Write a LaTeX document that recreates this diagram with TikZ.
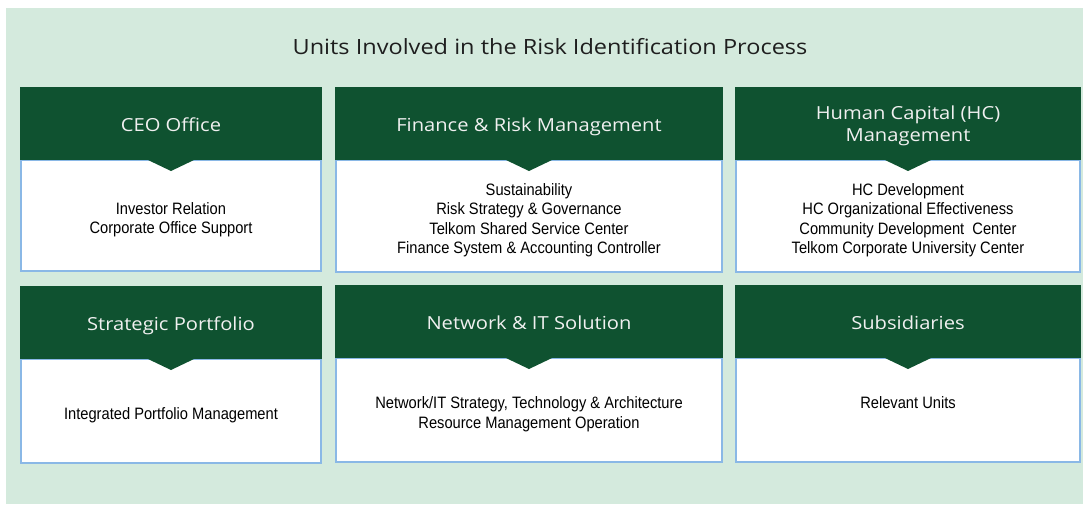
\documentclass[tikz,border=0pt]{standalone}
\usepackage{fontspec}
\setmainfont[FakeStretch=1.12]{Open Sans}
\newfontfamily\unitfont[FakeStretch=0.89]{Liberation Sans}
\usetikzlibrary{positioning}
\definecolor{bggreen}{HTML}{D4EADD}
\definecolor{hdrgreen}{HTML}{0F5230}
\definecolor{unitblue}{HTML}{8AB8E6}
\definecolor{titlegray}{HTML}{1E1E1E}
\tikzset{
  hdr/.style={fill=hdrgreen, text=white!94!black, minimum height=73pt, inner sep=0pt, align=center, font=\fontsize{18}{22}\selectfont, text height=16.2pt, text depth=0pt},
  unitbox/.style={fill=white, draw=unitblue, line width=2.4pt, outer sep=0pt, inner sep=0pt, align=center, anchor=north, font=\unitfont\fontsize{16.5}{19.3}\selectfont, text=black, text depth=0pt}
}
\begin{document}
\begin{tikzpicture}[x=1pt, y=-1pt]
    \useasboundingbox (0,0) rectangle (1083,504);
    % Background
    \fill[bggreen] (6,8) rectangle (1083,504);
    \node[text=titlegray, font=\fontsize{21}{24}\selectfont] (title) at (550,47) {Units Involved in the Risk Identification Process};
    % Top row
    \node[unitbox, minimum width=300pt, minimum height=111pt, text height=36.1pt] (ceoBody) at (171,160) {Investor Relation\\Corporate Office Support};
    \node[hdr, minimum width=302pt, above=0pt of ceoBody] (ceo) {CEO Office};
    \node[unitbox, minimum width=386pt, minimum height=112pt, text height=74.7pt] (finBody) at (529,160) {Sustainability\\Risk Strategy \& Governance\\Telkom Shared Service Center\\Finance System \& Accounting Controller};
    \node[hdr, minimum width=388pt, above=0pt of finBody] (fin) {Finance \& Risk Management};
    \node[unitbox, minimum width=344pt, minimum height=112pt, text height=74.7pt] (hcBody) at (908,160) {HC Development\\HC Organizational Effectiveness\\Community Development~ Center\\Telkom Corporate University Center};
    \node[hdr, minimum width=346pt, above=0pt of hcBody, text height=36.9pt] (hc) {Human Capital (HC)\\Management};
    % Bottom row
    \node[unitbox, minimum width=300pt, minimum height=104pt, text height=16.8pt] (spBody) at (171,359) {Integrated Portfolio Management};
    \node[hdr, minimum width=302pt, above=0pt of spBody] (sp) {Strategic Portfolio};
    \node[unitbox, minimum width=386pt, minimum height=104pt, text height=36.1pt] (nitBody) at (529,358) {Network/IT Strategy, Technology \& Architecture\\Resource Management Operation};
    \node[hdr, minimum width=388pt, above=0pt of nitBody] (nit) {Network \& IT Solution};
    \node[unitbox, minimum width=344pt, minimum height=104pt, text height=0pt, text depth=2.2pt] (subBody) at (908,358) {Relevant Units};
    \node[hdr, minimum width=346pt, above=0pt of subBody] (sub) {Subsidiaries};
    % Pointers
    \foreach \u in {ceo,fin,hc,sp,nit,sub}
        \fill[hdrgreen] ([xshift=-23pt]\u.south) -- ([xshift=23pt]\u.south) -- ([yshift=-11pt]\u.south) -- cycle;
\end{tikzpicture}
\end{document}
